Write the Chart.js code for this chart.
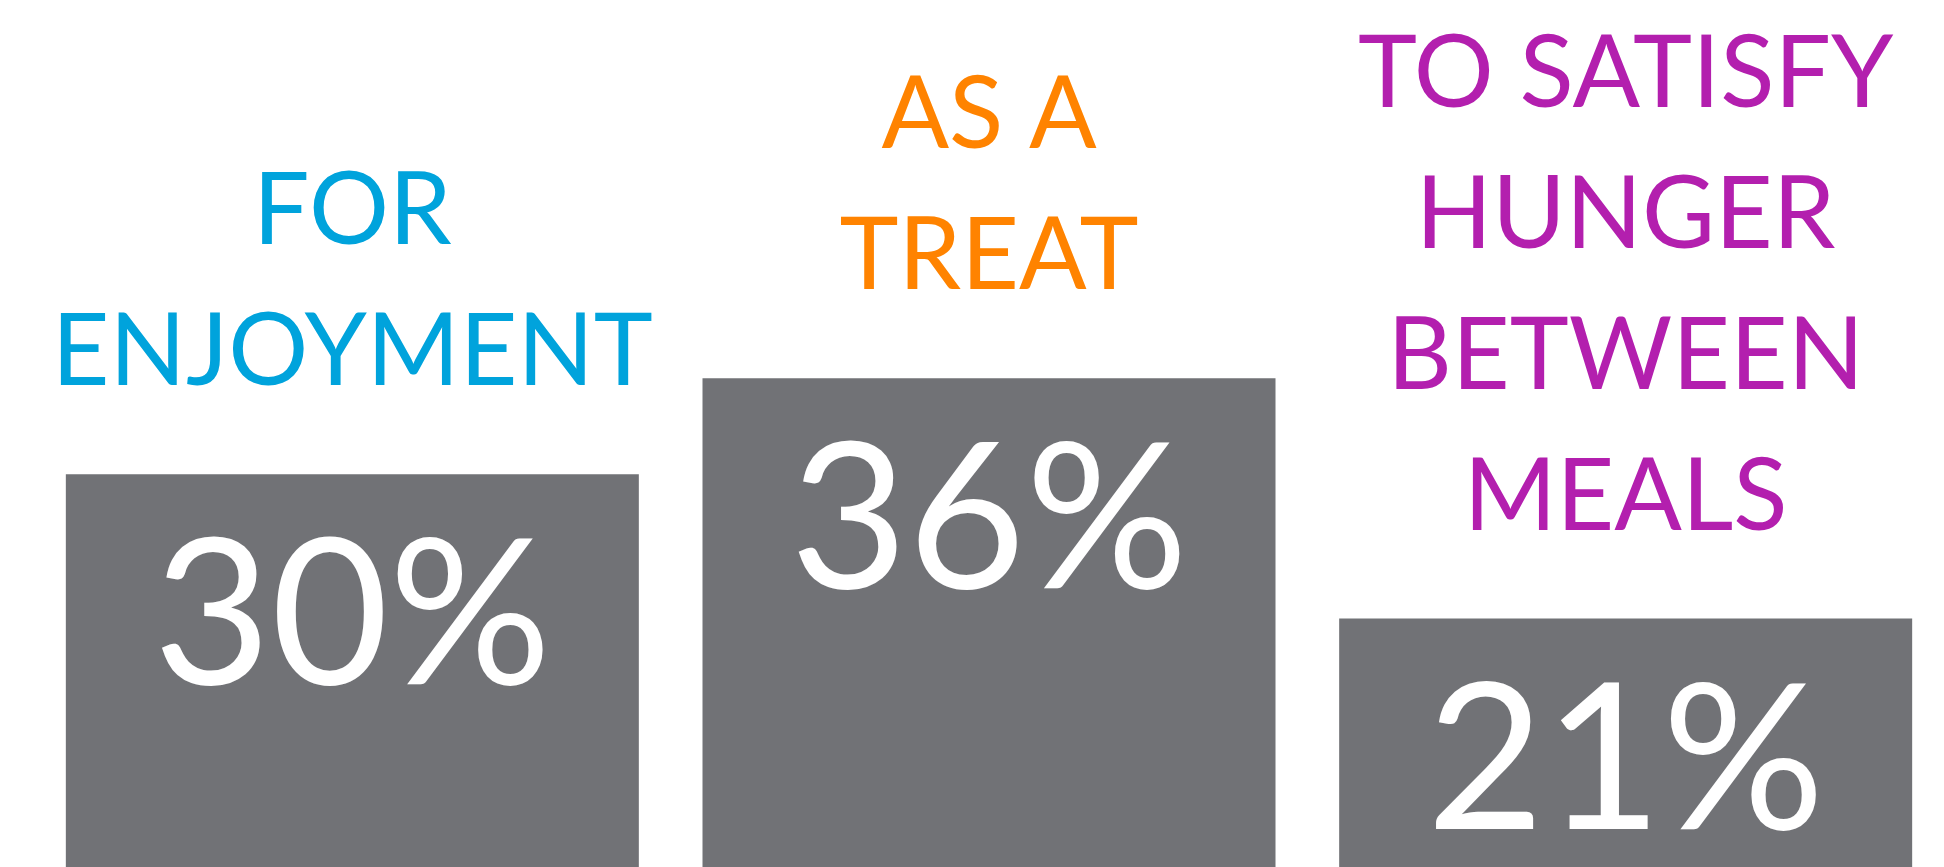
<!DOCTYPE html>
<html>
<head>
<meta charset="utf-8">
<script src="https://cdn.jsdelivr.net/npm/chart.js@4"></script>
<style>
  html, body { margin: 0; padding: 0; background: #ffffff; overflow: hidden; }
  canvas { display: block; }
</style>
</head>
<body>
<canvas id="chart" width="1944" height="867"></canvas>
<script>
// chart data
const reasons = [["FOR", "ENJOYMENT"], ["AS A", "TREAT"], ["TO SATISFY", "HUNGER", "BETWEEN", "MEALS"]];
const shares = [30, 36, 21];
const reasonColors = ["#00a3dc", "#ff8300", "#b31fae"];

const barColor = "#717276";

// draws the category text above each bar and the percentage inside it
const barLabels = {
    id: "barLabels",
    afterDatasetsDraw(chart) {
        const ctx = chart.ctx;
        const meta = chart.getDatasetMeta(0);
        ctx.save();
        ctx.textAlign = "center";
        ctx.textBaseline = "alphabetic";
        meta.data.forEach(function(bar, i) {
            let lines = chart.data.labels[i];
            ctx.fillStyle = reasonColors[i];
            ctx.font = "100px Lato";
            for (let j = 0; j < lines.length; j++) {
                let y = bar.y - 89 - (lines.length - 1 - j) * 141;
                ctx.fillText(lines[j], bar.x, y);
            }
            ctx.fillStyle = "#ffffff";
            ctx.font = "203px Lato";
            ctx.fillText(shares[i] + "%", bar.x, bar.y + 210);
        });
        ctx.restore();
    }
};

new Chart(document.getElementById("chart"), {
    type: "bar",
    data: {
        labels: reasons,
        datasets: [{
            data: shares,
            backgroundColor: barColor,
            borderWidth: 0,
            barPercentage: 0.9,
            categoryPercentage: 1
        }]
    },
    options: {
        responsive: false,
        animation: false,
        layout: { padding: { left: 34, right: 0, top: 0, bottom: 0 } },
        scales: {
            x: { display: false },
            y: { display: false, min: 5.5, max: 59.6 }
        },
        plugins: {
            legend: { display: false },
            tooltip: { enabled: false }
        }
    },
    plugins: [barLabels]
});
</script>
</body>
</html>
